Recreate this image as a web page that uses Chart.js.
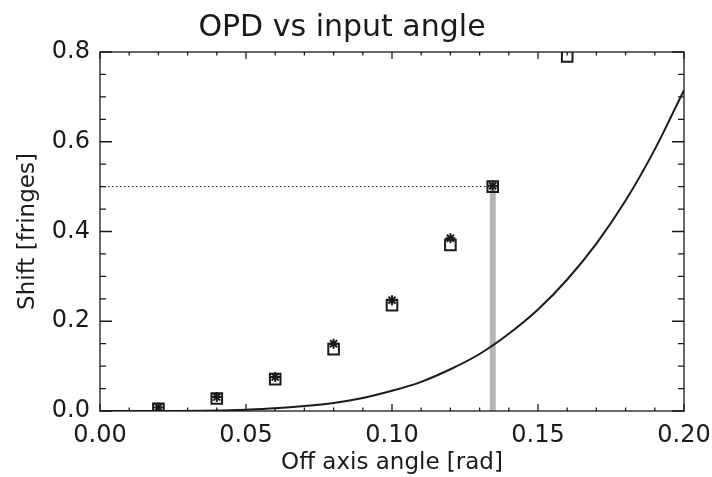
<!DOCTYPE html>
<html>
<head>
<meta charset="utf-8">
<script src="https://cdn.jsdelivr.net/npm/chart.js@4"></script>
<style>
  body { margin: 0; background: #fff; }
  #wrap { width: 712px; height: 477px; }
</style>
</head>
<body>
<div id="wrap"><canvas id="opd"></canvas></div>
<script>
// measured points (off axis angle in rad, shift in fringes)
const angleX  = [0.02, 0.04, 0.06, 0.08, 0.10, 0.12, 0.1345, 0.16];
const squareY = [0.005, 0.028, 0.071, 0.138, 0.236, 0.370, 0.500, 0.790];
const starY   = [0.008, 0.031, 0.076, 0.150, 0.247, 0.385, 0.502, null];

// model curve
const curveX = [0.00, 0.02, 0.04, 0.05, 0.06, 0.07, 0.08, 0.09, 0.10, 0.11,
                0.12, 0.13, 0.14, 0.15, 0.16, 0.17, 0.18, 0.19, 0.20];
const curveY = [0.000, 0.000, 0.001, 0.003, 0.006, 0.011, 0.018, 0.029, 0.045, 0.065,
                0.093, 0.127, 0.172, 0.226, 0.293, 0.373, 0.469, 0.583, 0.715];

// half-fringe marker
const markAngle = 0.1345;
const markShift = 0.5;
const dottedEnd = 0.136;

const xTicks = [0.00, 0.05, 0.10, 0.15, 0.20];
const yTicks = [0.0, 0.2, 0.4, 0.6, 0.8];

const FONT = "'DejaVu Sans', sans-serif";
const INK = '#1a1a1a';

function pts(xs, ys) {
  return xs.map((x, i) => ({ x: x, y: ys[i] }));
}

// IDL style box with inward major/minor ticks on all sides
const boxTicks = {
  id: 'boxTicks',
  afterDraw(chart) {
    const { ctx, chartArea: a, scales: { x, y } } = chart;
    ctx.save();
    ctx.strokeStyle = INK;
    ctx.lineWidth = 1.3;
    ctx.strokeRect(a.left, a.top, a.right - a.left, a.bottom - a.top);
    ctx.beginPath();
    for (let i = 0; i <= 20; i++) {
      const v = x.min + i * 0.01;
      const px = x.getPixelForValue(v);
      const len = (i % 5 === 0) ? 7 : 3.5;
      ctx.moveTo(px, a.bottom); ctx.lineTo(px, a.bottom - len);
      ctx.moveTo(px, a.top); ctx.lineTo(px, a.top + len);
    }
    for (let i = 0; i <= 16; i++) {
      const v = y.min + i * 0.05;
      const py = y.getPixelForValue(v);
      const len = (i % 4 === 0) ? 12 : 6;
      ctx.moveTo(a.left, py); ctx.lineTo(a.left + len, py);
      ctx.moveTo(a.right, py); ctx.lineTo(a.right - len, py);
    }
    ctx.stroke();
    ctx.restore();
  }
};

new Chart(document.getElementById('opd'), {
  type: 'scatter',
  data: {
    datasets: [
      {
        label: 'measured',
        data: pts(angleX, squareY),
        pointStyle: 'rect',
        pointRadius: 7.5,
        pointBorderWidth: 2,
        borderColor: INK,
        backgroundColor: 'rgba(0,0,0,0)',
        showLine: false
      },
      {
        label: 'measured 2',
        data: pts(angleX, starY),
        pointStyle: 'star',
        pointRadius: 5,
        pointBorderWidth: 2,
        borderColor: INK,
        backgroundColor: INK,
        showLine: false
      },
      {
        label: 'model',
        data: pts(curveX, curveY),
        showLine: true,
        borderColor: INK,
        borderWidth: 2,
        pointRadius: 0,
        cubicInterpolationMode: 'monotone'
      },
      {
        label: 'half fringe',
        data: [{ x: 0, y: markShift }, { x: dottedEnd, y: markShift }],
        showLine: true,
        borderColor: INK,
        borderWidth: 1,
        borderDash: [1.5, 2.5],
        pointRadius: 0
      },
      {
        label: 'angle',
        data: [{ x: markAngle, y: 0 }, { x: markAngle, y: markShift }],
        showLine: true,
        borderColor: '#b4b4b4',
        borderWidth: 6,
        pointRadius: 0
      }
    ]
  },
  options: {
    responsive: true,
    maintainAspectRatio: false,
    animation: false,
    layout: { padding: { left: 0, right: 28, top: 0, bottom: 0 } },
    plugins: {
      legend: { display: false },
      tooltip: { enabled: false },
      title: {
        display: true,
        text: 'OPD vs input angle',
        color: INK,
        font: { family: FONT, size: 30, weight: 'normal', lineHeight: 1.2 },
        padding: { top: 10, bottom: 6 }
      }
    },
    scales: {
      x: {
        type: 'linear',
        min: 0,
        max: 0.2,
        afterFit(scale) { scale.height = 66; scale.paddingRight = 20; },
        afterBuildTicks(scale) { scale.ticks = xTicks.map(v => ({ value: v })); },
        ticks: {
          color: INK,
          padding: 10,
          maxRotation: 0,
          font: { family: FONT, size: 24 },
          callback: v => v.toFixed(2)
        },
        grid: { display: false, drawTicks: false },
        border: { display: false },
        title: {
          display: true,
          text: 'Off axis angle [rad]',
          color: INK,
          font: { family: FONT, size: 23 },
          padding: { top: 0, bottom: 0 }
        }
      },
      y: {
        type: 'linear',
        min: 0,
        max: 0.8,
        afterFit(scale) { scale.width = 100; },
        afterBuildTicks(scale) { scale.ticks = yTicks.map(v => ({ value: v })); },
        ticks: {
          color: INK,
          padding: 10,
          font: { family: FONT, size: 24 },
          callback: v => v.toFixed(1)
        },
        grid: { display: false, drawTicks: false },
        border: { display: false },
        title: {
          display: true,
          text: 'Shift [fringes]',
          color: INK,
          font: { family: FONT, size: 23 },
          padding: { top: 14, bottom: 0 }
        }
      }
    }
  },
  plugins: [boxTicks]
});
</script>
</body>
</html>
